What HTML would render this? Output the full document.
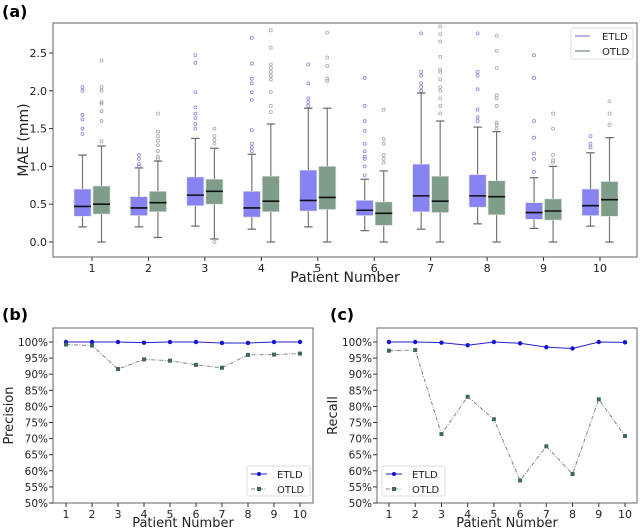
<!DOCTYPE html>
<html><head><meta charset="utf-8">
<style>
html,body{margin:0;padding:0;background:#fff;}
svg{display:block;font-family:"DejaVu Sans","Liberation Sans",sans-serif;}
</style></head>
<body>
<svg id="fig" width="640" height="531" viewBox="0 0 640 531">
  <text x="2" y="17" font-size="16" font-weight="bold">(a)</text>
  <text x="2" y="320" font-size="16" font-weight="bold">(b)</text>
  <text x="330" y="320" font-size="16" font-weight="bold">(c)</text>
  <g id="pa"></g>
  <g id="pb"></g>
  <g id="pc"></g>
</svg>
<script>
// ---- data: panel (a) box stats [whiskerLow, q1, median, q3, whiskerHigh]
const patients = [1,2,3,4,5,6,7,8,9,10];
const etldBoxes = [
 [0.2,0.34,0.47,0.70,1.15],[0.2,0.35,0.45,0.60,0.98],[0.21,0.48,0.62,0.86,1.37],
 [0.17,0.33,0.45,0.67,1.16],[0.2,0.41,0.55,0.95,1.77],[0.15,0.35,0.42,0.55,0.83],
 [0.17,0.40,0.61,1.03,1.97],[0.24,0.46,0.61,0.89,1.52],[0.18,0.30,0.39,0.52,0.85],
 [0.21,0.35,0.48,0.70,1.18]];
const otldBoxes = [
 [0,0.37,0.50,0.74,1.27],[0.06,0.40,0.52,0.67,1.07],[0.04,0.50,0.67,0.83,1.24],
 [0,0.40,0.54,0.87,1.56],[0,0.43,0.59,1.00,1.77],[0,0.22,0.38,0.53,0.94],
 [0,0.39,0.54,0.87,1.60],[0,0.36,0.60,0.81,1.46],[0,0.29,0.41,0.57,1.00],
 [0,0.34,0.56,0.80,1.38]];
const etldOutliers = [
 [1.43,1.5,1.62,1.68,2.0,2.05],[1.0,1.03,1.1,1.15],[1.5,1.56,1.64,1.7,1.78,1.98,2.37,2.47],
 [1.2,1.25,1.3,1.48,1.88,1.98,2.1,2.16,2.36,2.7],[1.8,1.85,1.9,2.1,2.35],
 [0.88,1.0,1.1,1.13,1.2,1.3,1.47,1.6,1.8,2.17],[2.0,2.05,2.1,2.2,2.25,2.76],
 [1.6,1.65,1.75,2.02,2.2,2.25,2.76],[0.93,1.1,1.17,1.38,1.6,2.17,2.47],[1.25,1.3,1.4]];
const otldOutliers = [
 [1.33,1.6,1.73,1.83,1.85,2.0,2.05,2.4],[1.1,1.13,1.2,1.28,1.34,1.4,1.46,1.7],[0,1.3,1.35,1.4,1.5],
 [1.72,1.8,1.98,2.15,2.2,2.25,2.3,2.35,2.57,2.8],[2.13,2.16,2.33,2.44,2.77],
 [1.05,1.1,1.15,1.3,1.36,1.75],[1.7,1.8,1.9,2.0,2.05,2.15,2.25,2.28,2.45,2.65,2.75,2.85],
 [1.5,1.55,1.58,1.8,1.9,1.94,2.3,2.53,2.73],[1.05,1.08,1.15,1.5,1.7],[1.55,1.7,1.86]];
const maeTicks = [0.0,0.5,1.0,1.5,2.0,2.5];
// ---- data: panels (b),(c)
const precisionEtld = [100,100,100,99.8,100,100,99.7,99.7,100,100];
const precisionOtld = [99.2,98.9,91.6,94.6,94.2,92.9,92.0,96.0,96.1,96.4];
const recallEtld = [100,100,99.8,99.0,100,99.6,98.4,98.0,100,99.9];
const recallOtld = [97.3,97.5,71.4,83.0,76.0,57.0,67.6,59.0,82.2,70.8];
const pctTicks = [50,55,60,65,70,75,80,85,90,95,100];

const NS="http://www.w3.org/2000/svg";
function mk(parent,tag,attrs,text){const e=document.createElementNS(NS,tag);for(const k in attrs)e.setAttribute(k,attrs[k]);if(text!==undefined)e.textContent=text;parent.appendChild(e);return e;}

// ===== Panel A =====
(function(){
 const g=document.getElementById('pa');
 const L=53,R=637,T=23,B=257;
 const y=v=>242-v*75.6;
 const x=i=>92+(i)*(600-92)/9;
 const frame=mk(g,'rect',{x:L,y:T,width:R-L,height:B-T,fill:'none',stroke:'#666','stroke-width':1});
 
 
 maeTicks.forEach(t=>{
  mk(g,'line',{x1:L-4,x2:L,y1:y(t),y2:y(t),stroke:'#333'});
  const tl=mk(g,'text',{x:L-6,y:y(t)+4,'font-size':11,'text-anchor':'end',fill:'#222'},t.toFixed(1));
  
  
 });
 patients.forEach((p,i)=>{
  mk(g,'line',{x1:x(i),x2:x(i),y1:B,y2:B+4,stroke:'#333'});
  const tl=mk(g,'text',{x:x(i),y:B+15,'font-size':11,'text-anchor':'middle',fill:'#222'},String(p));
  
  
 });
 const yt=mk(g,'text',{x:0,y:0,'font-size':14,'text-anchor':'middle',fill:'#222',transform:`translate(28,${(T+B)/2}) rotate(-90)`},'MAE (mm)');
 
 
 const xt=mk(g,'text',{x:(L+R)/2,y:282,'font-size':14,'text-anchor':'middle',fill:'#222'},'Patient Number');
 
 
 function box(i,st,out,off,fill,oc,name){
  const cx=x(i)+off, w=17;
  const bg=mk(g,'g',{});
  
  
  mk(bg,'line',{x1:cx,x2:cx,y1:y(st[0]),y2:y(st[1]),stroke:'#777','stroke-width':1.2});
  mk(bg,'line',{x1:cx,x2:cx,y1:y(st[3]),y2:y(st[4]),stroke:'#777','stroke-width':1.2});
  mk(bg,'line',{x1:cx-w/4,x2:cx+w/4,y1:y(st[0]),y2:y(st[0]),stroke:'#666','stroke-width':1.2});
  mk(bg,'line',{x1:cx-w/4,x2:cx+w/4,y1:y(st[4]),y2:y(st[4]),stroke:'#666','stroke-width':1.2});
  mk(bg,'rect',{x:cx-w/2,y:y(st[3]),width:w,height:y(st[1])-y(st[3]),fill:fill,stroke:'#ddd','stroke-width':0.6});
  mk(bg,'line',{x1:cx-w/2,x2:cx+w/2,y1:y(st[2]),y2:y(st[2]),stroke:'#111','stroke-width':1.6});
  out.forEach(o=>mk(bg,'circle',{cx:cx,cy:y(o),r:1.5,fill:'none',stroke:oc,'stroke-width':0.8}));
 }
 patients.forEach((p,i)=>{
  box(i,etldBoxes[i],etldOutliers[i],-9.5,'#8883f2','#8a86d8','etld');
  box(i,otldBoxes[i],otldOutliers[i],9.5,'#7f9d8b','#a0a8b0','otld');
 });
 const lg=mk(g,'g',{});
 
 
 mk(lg,'rect',{x:571,y:28,width:62,height:31,fill:'#fff',stroke:'#ddd',rx:2});
 mk(lg,'line',{x1:575,x2:590,y1:36,y2:36,stroke:'#9a98d8','stroke-width':1.5});
 mk(lg,'text',{x:602,y:40,'font-size':10,fill:'#222'},'ETLD');
 mk(lg,'line',{x1:575,x2:590,y1:51,y2:51,stroke:'#8a9e92','stroke-width':1.5});
 mk(lg,'text',{x:602,y:55,'font-size':10,fill:'#222'},'OTLD');
})();

// ===== Panels B, C =====
function linePanel(id,L,R,x1,x10,title,e,o,legX){
 const g=document.getElementById(id);
 const T=328,B=503;
 const y=v=>342+(100-v)*3.22;
 const x=i=>x1+i*(x10-x1)/9;
 const fr=mk(g,'rect',{x:L,y:T,width:R-L,height:B-T,fill:'none',stroke:'#666'});
 
 
 pctTicks.forEach(t=>{
  mk(g,'line',{x1:L-4,x2:L,y1:y(t),y2:y(t),stroke:'#333'});
  const tl=mk(g,'text',{x:L-5,y:y(t)+4,'font-size':10.5,'text-anchor':'end',fill:'#222'},t+'%');
  
  
 });
 patients.forEach((p,i)=>{
  mk(g,'line',{x1:x(i),x2:x(i),y1:B,y2:B+4,stroke:'#333'});
  const tl=mk(g,'text',{x:x(i),y:B+15,'font-size':11,'text-anchor':'middle',fill:'#222'},String(p));
  
  
 });
 const yt=mk(g,'text',{x:0,y:0,'font-size':13,'text-anchor':'middle',fill:'#222',transform:`translate(${L-40},${(T+B)/2}) rotate(-90)`},title);
 
 
 const xt=mk(g,'text',{x:(L+R)/2,y:527,'font-size':13,'text-anchor':'middle',fill:'#222'},'Patient Number');
 
 
 const pe=mk(g,'polyline',{points:e.map((v,i)=>x(i)+','+y(v)).join(' '),fill:'none',stroke:'#2222cc','stroke-width':1});
 
 
 const po=mk(g,'polyline',{points:o.map((v,i)=>x(i)+','+y(v)).join(' '),fill:'none',stroke:'#7a8a82','stroke-width':1,'stroke-dasharray':'4,1.5,1,1.5'});
 
 
 e.forEach((v,i)=>{const c=mk(g,'circle',{cx:x(i),cy:y(v),r:2.2,fill:'#1414d0'});});
 o.forEach((v,i)=>{const r=mk(g,'rect',{x:x(i)-2,y:y(v)-2,width:4,height:4,fill:'#3f6a58'});});
 const lg=mk(g,'g',{});
 
 
 mk(lg,'rect',{x:legX,y:466,width:63,height:30,fill:'#fff',stroke:'#ddd',rx:2});
 mk(lg,'line',{x1:legX+4,x2:legX+20,y1:474,y2:474,stroke:'#2222cc'});
 mk(lg,'circle',{cx:legX+12,cy:474,r:2,fill:'#1414d0'});
 mk(lg,'text',{x:legX+30,y:478,'font-size':10,fill:'#222'},'ETLD');
 mk(lg,'line',{x1:legX+4,x2:legX+20,y1:489,y2:489,stroke:'#7a8a82','stroke-dasharray':'4,1.5,1,1.5'});
 mk(lg,'rect',{x:legX+10,y:487,width:4,height:4,fill:'#3f6a58'});
 mk(lg,'text',{x:legX+30,y:493,'font-size':10,fill:'#222'},'OTLD');
}
linePanel('pb',53,313,66,300,'Precision',precisionEtld,precisionOtld,247);
linePanel('pc',377,637,389,625,'Recall',recallEtld,recallOtld,382);
</script>
</body></html>
